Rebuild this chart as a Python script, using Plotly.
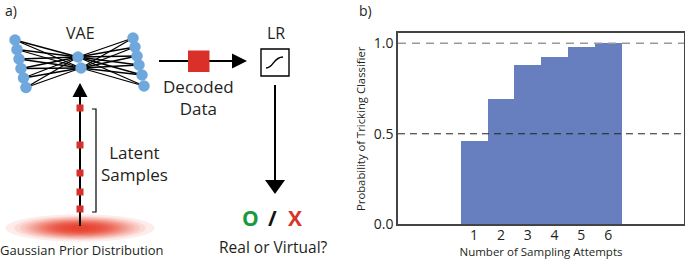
import math
import plotly.graph_objects as go

# ---------------- data (panel b) ----------------
attempts = [1, 2, 3, 4, 5, 6]
prob_tricking = [0.46, 0.69, 0.88, 0.92, 0.98, 1.0]
y_ticks = [0.0, 0.5, 1.0]
y_tick_labels = ["0.0", "0.5", "1.0"]
ref_chance = 0.5
ref_certain = 1.0

FONT = "Open Sans"
TXT = "#231f20"
BAR = "#677fbe"
NODE = "#6fa8dc"
RED = "#d9302a"

W, H = 685, 259
fig = go.Figure()

# ---------------- panel b: bar chart ----------------
fig.add_trace(go.Bar(x=attempts, y=prob_tricking, marker=dict(color=BAR, line=dict(width=0)),
                     width=1.0, xaxis="x", yaxis="y", showlegend=False, hoverinfo="skip"))

# ---------------- panel a: diagram (pixel-space helper axes) ----------------
left_nodes_x = [15, 17, 19, 21, 23.5, 26]
left_nodes_y = [40, 49.5, 59, 68.5, 78, 87.5]
mid_nodes_x = [78, 81]
mid_nodes_y = [57, 68]
right_nodes_x = [133, 135, 137, 139, 142, 144]
right_nodes_y = [38, 47, 56, 65, 75, 86]

ex, ey = [], []
for lx, ly in zip(left_nodes_x, left_nodes_y):
    for mx, my in zip(mid_nodes_x, mid_nodes_y):
        ex += [lx, mx, None]
        ey += [ly, my, None]
for rx, ry in zip(right_nodes_x, right_nodes_y):
    for mx, my in zip(mid_nodes_x, mid_nodes_y):
        ex += [mx, rx, None]
        ey += [my, ry, None]

shapes = []
# gaussian prior blob (stacked translucent ellipses -> soft gaussian falloff)
N = 22
sx, sy_ = 30.0, 5.5
for k in range(1, N + 1):
    f = math.sqrt(2 * math.log(N / k)) if k < N else 0.25
    rx, ry = sx * f, sy_ * f
    shapes.append(dict(type="circle", xref="x2", yref="y2", x0=80 - rx, x1=80 + rx,
                       y0=228 - ry, y1=228 + ry, line=dict(width=0),
                       fillcolor="rgba(232,45,25,0.09)", layer="below"))

fig.add_trace(go.Scatter(x=ex, y=ey, mode="lines", line=dict(color="black", width=1.3),
                         xaxis="x2", yaxis="y2", showlegend=False, hoverinfo="skip"))
fig.add_trace(go.Scatter(x=left_nodes_x + mid_nodes_x + right_nodes_x,
                         y=left_nodes_y + mid_nodes_y + right_nodes_y,
                         mode="markers", marker=dict(color=NODE, size=11.5, line=dict(width=0)),
                         xaxis="x2", yaxis="y2", showlegend=False, hoverinfo="skip"))

def line(x0, y0, x1, y1, w=2, color="black"):
    return dict(type="line", xref="x2", yref="y2", x0=x0, y0=y0, x1=x1, y1=y1,
                line=dict(color=color, width=w))

def path(d, fill="black", w=0, color="black"):
    return dict(type="path", xref="x2", yref="y2", path=d, fillcolor=fill,
                line=dict(color=color, width=w))

def rect(x0, y0, x1, y1, fill=RED, w=0, color="black"):
    return dict(type="rect", xref="x2", yref="y2", x0=x0, y0=y0, x1=x1, y1=y1,
                fillcolor=fill, line=dict(color=color, width=w))

# latent samples up arrow
shapes.append(line(80, 226, 80, 96, w=2))
shapes.append(path("M 72.5 97 L 87.5 97 L 80 83 Z"))
for sy in [108, 145, 173, 192, 209]:
    shapes.append(rect(76.5, sy - 3.5, 83.5, sy + 3.5))
# bracket
shapes.append(path("M 92 109 L 96 109 L 96 212 L 92 212", fill="rgba(0,0,0,0)", w=1.2))
# decoded data arrow
shapes.append(line(159, 61, 233, 61, w=2))
shapes.append(rect(188, 50.5, 209.5, 72))
shapes.append(path("M 232 53.5 L 232 68.5 L 247 61 Z"))
# LR box with sigmoid
shapes.append(rect(261, 49, 289, 76, fill="white", w=1.4))
shapes.append(path("M 266 68 C 274 68, 273 57, 283 57", fill="rgba(0,0,0,0)", w=1.4))
# LR down arrow
shapes.append(line(275, 85, 275, 181, w=2))
shapes.append(path("M 265 180 L 285 180 L 275 194 Z"))

# reference dashed lines in bar chart
shapes.append(dict(type="line", xref="x domain", yref="y", x0=0, x1=1, y0=ref_chance, y1=ref_chance,
                   line=dict(color="#222", width=1, dash="7px,5px"), layer="above"))
shapes.append(dict(type="line", xref="x domain", yref="y", x0=0, x1=1, y0=ref_certain, y1=ref_certain,
                   line=dict(color="#9a9a9a", width=1.5, dash="8px,6px"), layer="above"))

def txt(x, y, s, size, color=TXT, xanchor="center", bold=False):
    return dict(x=x, y=y, xref="x2", yref="y2", text=("<b>%s</b>" % s) if bold else s,
                showarrow=False, xanchor=xanchor, yanchor="middle",
                font=dict(family=FONT, size=size, color=color))

annotations = [
    txt(3, 10, "a)", 14, xanchor="left"),
    txt(357, 10, "b)", 14, xanchor="left"),
    txt(80, 33, "VAE", 16),
    txt(276, 33, "LR", 16),
    txt(198, 97.5, "Decoded<br>Data", 17),
    txt(99, 163, "Latent<br>Samples", 17, xanchor="left"),
    txt(82, 250, "Gaussian Prior Distribution", 13),
    txt(273, 247, "Real or Virtual?", 15.5),
    txt(250, 218, "O", 21, color="#1a9a3e", bold=True),
    txt(272, 218, "/", 21, color="#111", bold=True),
    txt(295, 218, "X", 21, color="#d9362b", bold=True),
]

x_left_px, x_right_px = 398, 684
y_top_px, y_bot_px = 33.3, 224.3

fig.update_layout(
    width=W, height=H, margin=dict(l=0, r=0, t=0, b=0),
    paper_bgcolor="white", plot_bgcolor="rgba(0,0,0,0)",
    bargap=0, showlegend=False,
    font=dict(family=FONT, color=TXT),
    shapes=shapes, annotations=annotations,
    xaxis=dict(domain=[x_left_px / W, x_right_px / W], range=[-1.84, 8.83],
               tickvals=attempts, ticktext=[str(a) for a in attempts],
               tickfont=dict(size=14, color=TXT), ticks="", ticklabelstandoff=-3,
               showgrid=False, zeroline=False,
               showline=True, mirror=True, linecolor="#444", linewidth=1.5,
               title=dict(text="Number of Sampling Attempts", font=dict(size=11.5, color=TXT), standoff=0),
               automargin=False, anchor="y", fixedrange=True),
    yaxis=dict(domain=[1 - y_bot_px / H, 1 - y_top_px / H], range=[0, 1.055],
               tickvals=y_ticks, ticktext=y_tick_labels,
               tickfont=dict(size=14, color=TXT), ticks="", showgrid=False, zeroline=False,
               showline=True, mirror=True, linecolor="#444", linewidth=1.5,
               title=dict(text="Probability of Tricking Classifier", font=dict(size=11.3, color=TXT), standoff=6),
               automargin=False, anchor="x", fixedrange=True),
    xaxis2=dict(domain=[0, 1], range=[0, W], visible=False, anchor="y2", fixedrange=True),
    yaxis2=dict(domain=[0, 1], range=[H, 0], visible=False, anchor="x2", fixedrange=True),
)

fig.write_html("out.html", config={"displayModeBar": False},
               post_script="document.body.style.margin='0';document.body.style.overflow='hidden';")
